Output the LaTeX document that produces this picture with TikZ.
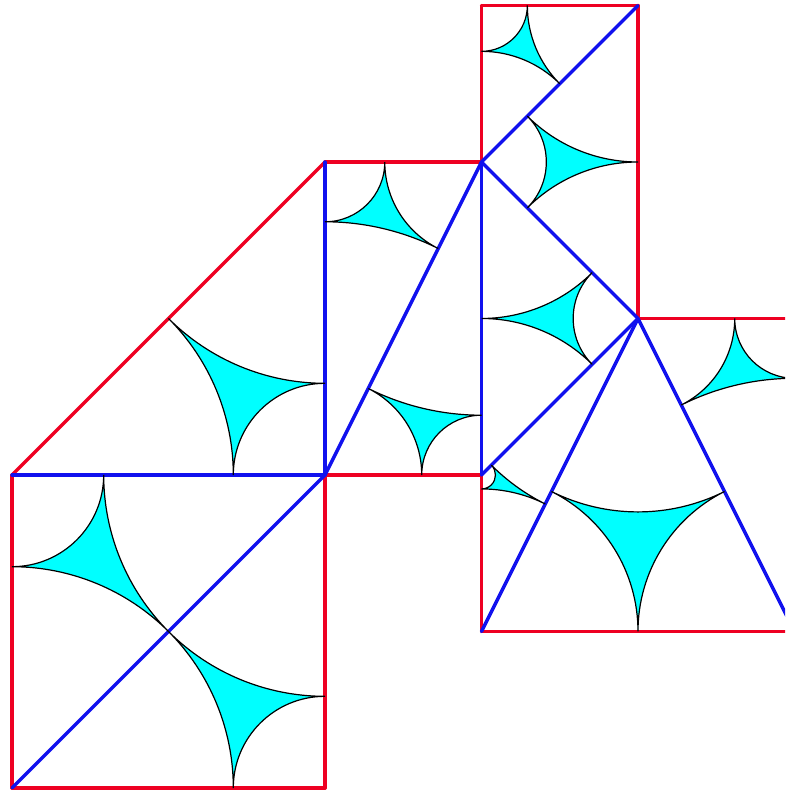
\documentclass[tikz,border=0pt]{standalone}
\definecolor{edgered}{RGB}{238,0,34}
\definecolor{edgeblue}{RGB}{17,17,238}
\definecolor{cuspfill}{RGB}{0,255,255}
\tikzset{
  redge/.style={draw=edgered,line width=3.4pt,line cap=round},
  bedge/.style={draw=edgeblue,line width=3.4pt,line cap=round},
  cusp/.style={draw=black,line width=1.2pt,fill=cuspfill,line join=miter}
}
\newcommand{\idealtri}[3]{%
  \pgfpointanchor{#1}{center}\pgfgetlastxy{\xa}{\ya}%
  \pgfpointanchor{#2}{center}\pgfgetlastxy{\xb}{\yb}%
  \pgfpointanchor{#3}{center}\pgfgetlastxy{\xc}{\yc}%
  \pgfmathsetmacro{\la}{veclen(\xb-\xc,\yb-\yc)}%
  \pgfmathsetmacro{\lb}{veclen(\xa-\xc,\ya-\yc)}%
  \pgfmathsetmacro{\lc}{veclen(\xa-\xb,\ya-\yb)}%
  \pgfmathsetmacro{\ra}{(\lb+\lc-\la)/2}%
  \pgfmathsetmacro{\rb}{(\la+\lc-\lb)/2}%
  \pgfmathsetmacro{\rc}{(\la+\lb-\lc)/2}%
  \pgfmathsetmacro{\aab}{atan2(\yb-\ya,\xb-\xa)}%
  \pgfmathsetmacro{\aac}{atan2(\yc-\ya,\xc-\xa)}%
  \pgfmathsetmacro{\aba}{atan2(\ya-\yb,\xa-\xb)}%
  \pgfmathsetmacro{\abc}{atan2(\yc-\yb,\xc-\xb)}%
  \pgfmathsetmacro{\aca}{atan2(\ya-\yc,\xa-\xc)}%
  \pgfmathsetmacro{\acb}{atan2(\yb-\yc,\xb-\xc)}%
  \pgfmathsetmacro{\da}{mod(\aac-\aab+540,360)-180}%
  \pgfmathsetmacro{\dc}{mod(\acb-\aca+540,360)-180}%
  \pgfmathsetmacro{\db}{mod(\aba-\abc+540,360)-180}%
  \path[cusp] ($(#1)+(\aab:\ra)$)
    arc[start angle=\aab,delta angle=\da,radius=\ra]
    arc[start angle=\aca,delta angle=\dc,radius=\rc]
    arc[start angle=\abc,delta angle=\db,radius=\rb];%
}
\usetikzlibrary{calc}
\begin{document}
\begin{tikzpicture}[x=1pt,y=1pt]
\useasboundingbox (0,0) rectangle (785,791);
\clip (0,0) rectangle (785,791);
% y values are 791 minus the pixel row
\coordinate (A) at (12,3);
\coordinate (B) at (325,3);
\coordinate (C) at (325,316);
\coordinate (D) at (12,316);
\coordinate (E) at (325,629);
\coordinate (F) at (481.5,629);
\coordinate (G) at (481.5,316);
\coordinate (H) at (638,472.5);
\coordinate (S) at (481.5,159.5);
\coordinate (T) at (638,785.5);
\coordinate (U) at (481.5,785.5);
\coordinate (V) at (794.5,159.5);
\coordinate (W) at (794.5,472.5);
\foreach \p/\q in {A/B,B/C,A/D,D/E,E/F,C/G,G/S,S/V,H/W,F/U,U/T,T/H}
  \draw[redge] (\p) -- (\q);
\foreach \p/\q in {A/C,D/C,C/E,C/F,F/G,F/H,G/H,F/T,H/S,H/V}
  \draw[bedge] (\p) -- (\q);
\idealtri{A}{B}{C}
\idealtri{A}{C}{D}
\idealtri{D}{C}{E}
\idealtri{C}{E}{F}
\idealtri{C}{F}{G}
\idealtri{F}{G}{H}
\idealtri{F}{H}{T}
\idealtri{F}{U}{T}
\idealtri{G}{H}{S}
\idealtri{H}{S}{V}
\idealtri{H}{V}{W}
\end{tikzpicture}
\end{document}
